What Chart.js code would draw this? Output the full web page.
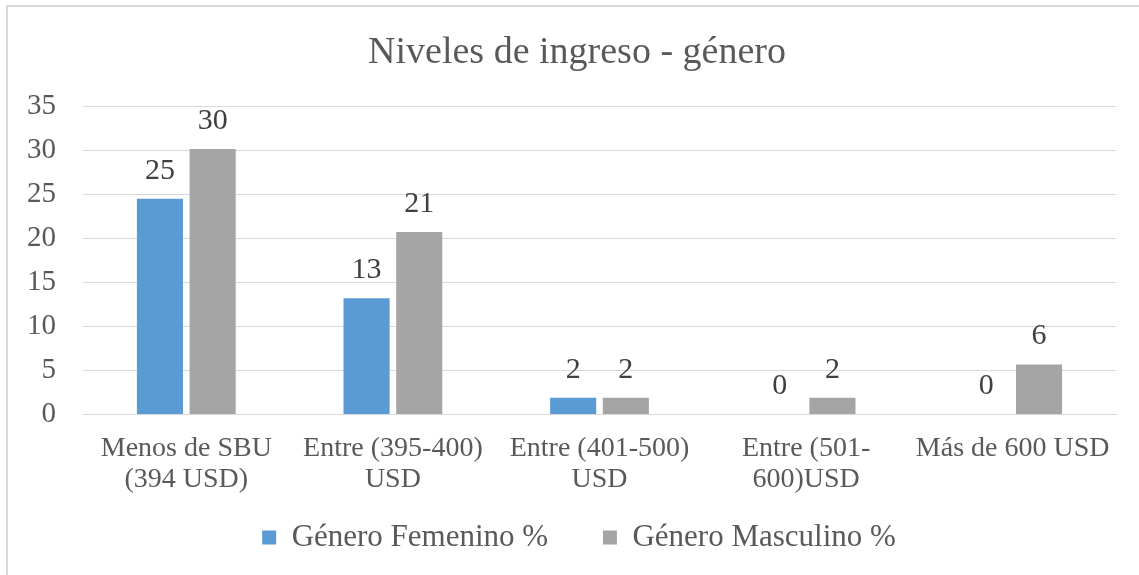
<!DOCTYPE html>
<html>
<head>
<meta charset="utf-8">
<script src="https://cdn.jsdelivr.net/npm/chart.js@4/dist/chart.umd.min.js"></script>
<style>
  html, body { margin: 0; padding: 0; background: #fff; overflow: hidden; }
  .frame {
    position: absolute; left: 6px; top: 5px; width: 1300px; height: 800px;
    border: 2px solid #d9d9d9; box-sizing: border-box;
  }
  .wrap { position: absolute; left: 0; top: 0; width: 1139px; height: 575px; }
</style>
</head>
<body>
<div class="frame"></div>
<div class="wrap"><canvas id="ingresoChart" width="1139" height="575"></canvas></div>
<script>
const categories = [
    ['Menos de SBU', '(394 USD)'],
    ['Entre (395-400)', 'USD'],
    ['Entre (401-500)', 'USD'],
    ['Entre (501-', '600)USD'],
    'Más de 600 USD',
];
const femenino = [24.53, 13.21, 1.89, 0, 0];
const masculino = [30.19, 20.75, 1.89, 1.89, 5.66];

const serif = "'Liberation Serif', 'Times New Roman', serif";

// labels above each bar, rounded like the source
const barLabels = {
    id: 'barLabels',
    afterDatasetsDraw(chart) {
        const ctx = chart.ctx;
        ctx.save();
        ctx.font = '30px ' + serif;
        ctx.fillStyle = '#404040';
        ctx.textAlign = 'center';
        ctx.textBaseline = 'middle';
        chart.data.datasets.forEach((ds, i) => {
            chart.getDatasetMeta(i).data.forEach((bar, j) => {
                ctx.fillText(Math.round(ds.data[j]), bar.x, bar.y - 28);
            });
        });
        ctx.restore();
    }
};

// title and legend sit a bit right of the canvas centre in the original
const nudge = {
    id: 'nudge',
    afterLayout(chart) {
        if (chart.titleBlock) { chart.titleBlock.left += 19; chart.titleBlock.right += 19; }
        if (chart.legend) { chart.legend.left += 21; chart.legend.right += 21; }
    }
};

new Chart(document.getElementById('ingresoChart'), {
    type: 'bar',
    data: {
        labels: categories,
        datasets: [{
            label: 'Género Femenino %',
            data: femenino,
            backgroundColor: '#5b9bd5',
            categoryPercentage: 0.51,
            barPercentage: 0.875,
        }, {
            label: 'Género Masculino %',
            data: masculino,
            backgroundColor: '#a5a5a5',
            categoryPercentage: 0.51,
            barPercentage: 0.875,
        }],
    },
    options: {
        responsive: false,
        animation: false,
        layout: { padding: { left: 0, right: 23, top: 12, bottom: 12 } },
        plugins: {
            title: {
                display: true,
                text: 'Niveles de ingreso - género',
                color: '#595959',
                font: { family: serif, size: 38, weight: 'normal', lineHeight: 1.2 },
                padding: { top: 18, bottom: 31 },
            },
            legend: {
                position: 'bottom',
                labels: {
                    color: '#595959',
                    font: { family: serif, size: 31 },
                    boxWidth: 14,
                    boxHeight: 14,
                    padding: 16,
                    generateLabels(chart) {
                        const items = Chart.defaults.plugins.legend.labels.generateLabels(chart);
                        items.forEach((it, i) => {
                            it.lineWidth = 0;
                            // extra gap between the two entries
                            if (i === 0) it.text += '\u00a0\u00a0\u00a0\u00a0\u00a0';
                        });
                        return items;
                    },
                },
            },
            tooltip: { enabled: false },
        },
        scales: {
            x: {
                grid: { display: false },
                border: { color: '#d9d9d9' },
                afterFit(scale) {
                    // wide first/last labels should not push the plot inwards
                    scale.paddingLeft = 0;
                    scale.paddingRight = 0;
                },
                ticks: {
                    color: '#595959',
                    font: { family: serif, size: 28, lineHeight: 1.1 },
                    maxRotation: 0,
                    autoSkip: false,
                    padding: 11,
                },
            },
            y: {
                min: 0,
                max: 35,
                ticks: {
                    stepSize: 5,
                    color: '#595959',
                    font: { family: serif, size: 29 },
                    padding: 27,
                },
                grid: { color: '#d9d9d9', drawTicks: false },
                border: { display: false },
            },
        },
    },
    plugins: [barLabels, nudge],
});
</script>
</body>
</html>
